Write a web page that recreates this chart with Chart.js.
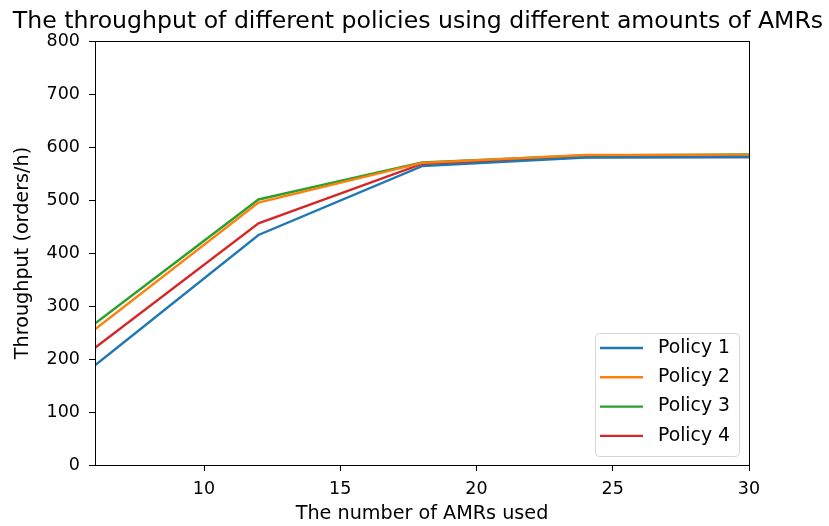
<!DOCTYPE html>
<html>
<head>
<meta charset="utf-8">
<script src="https://cdn.jsdelivr.net/npm/chart.js@4.4.1/dist/chart.umd.min.js"></script>
<style>
  html, body { margin: 0; padding: 0; background: #fff; }
  #wrap { width: 829px; height: 526px; }
</style>
</head>
<body>
<div id="wrap"><canvas id="chart" width="829" height="526"></canvas></div>
<script>
// values
var amrs = [6, 12, 18, 24, 30];
var policy1 = [188, 434, 564, 580, 581];
var policy2 = [256, 495, 570, 585, 585];
var policy3 = [267, 501, 571, 584, 586];
var policy4 = [221, 456, 568, 581, 581];
var xTicks = [10, 15, 20, 25, 30];
var yTicks = [0, 100, 200, 300, 400, 500, 600, 700, 800];
var titleText = "The throughput of different policies using different amounts of AMRs";

var colors = ["#1f77b4", "#ff7f0e", "#2ca02c", "#d62728"];
var font = "'DejaVu Sans', sans-serif";

function pts(ys) {
  return amrs.map(function (x, i) { return { x: x, y: ys[i] }; });
}

function series(label, ys, c) {
  return {
    label: label,
    data: pts(ys),
    borderColor: c,
    backgroundColor: c,
    borderWidth: 2.4,
    pointRadius: 0,
    tension: 0,
    fill: false
  };
}

// frame around the plot area
var frame = {
  id: "frame",
  afterDatasetsDraw: function (chart) {
    var a = chart.chartArea, g = chart.ctx;
    g.save();
    g.strokeStyle = "#000";
    g.lineWidth = 1;
    g.strokeRect(Math.round(a.left) + 0.5, Math.round(a.top) + 0.5,
      Math.round(a.right - a.left), Math.round(a.bottom - a.top));
    g.restore();
  }
};

// title drawn by hand so it may run wider than the plot box
var wideTitle = {
  id: "wideTitle",
  afterDraw: function (chart) {
    var a = chart.chartArea, g = chart.ctx;
    g.save();
    g.font = "23.6px " + font;
    g.fillStyle = "#000";
    g.textAlign = "center";
    g.textBaseline = "alphabetic";
    g.fillText(titleText, (a.left + a.right) / 2 - 4, a.top - 13);
    g.restore();
  }
};

// matplotlib-like legend in the lower right corner
var boxLegend = {
  id: "boxLegend",
  afterDraw: function (chart) {
    var a = chart.chartArea, g = chart.ctx;
    var sets = chart.data.datasets;
    var rowH = 29.3, w = 144, h = 123;
    var x0 = a.right - w - 10, y0 = a.bottom - h - 9;
    g.save();
    g.fillStyle = "rgba(255,255,255,0.8)";
    g.strokeStyle = "#d6d6d6";
    g.lineWidth = 1;
    g.beginPath();
    g.roundRect(x0 + 0.5, y0 + 0.5, w, h, 4);
    g.fill();
    g.stroke();
    g.font = "18.8px " + font;
    g.textBaseline = "middle";
    sets.forEach(function (d, i) {
      var cy = y0 + 15 + i * rowH;
      g.strokeStyle = d.borderColor;
      g.lineWidth = 2.4;
      g.beginPath();
      g.moveTo(x0 + 5, cy);
      g.lineTo(x0 + 48, cy);
      g.stroke();
      g.fillStyle = "#000";
      g.fillText(d.label, x0 + 63, cy);
    });
    g.restore();
  }
};

new Chart(document.getElementById("chart"), {
  type: "line",
  data: {
    datasets: [
      series("Policy 1", policy1, colors[0]),
      series("Policy 2", policy2, colors[1]),
      series("Policy 3", policy3, colors[2]),
      series("Policy 4", policy4, colors[3])
    ]
  },
  options: {
    responsive: false,
    animation: false,
    layout: { padding: { left: 0, right: 80, top: 41, bottom: 0 } },
    plugins: {
      legend: { display: false },
      tooltip: { enabled: false },
      title: { display: false }
    },
    scales: {
      x: {
        type: "linear",
        min: 6,
        max: 30,
        afterBuildTicks: function (s) { s.ticks = xTicks.map(function (v) { return { value: v }; }); },
        afterFit: function (s) { s.height = 61; },
        grid: { display: true, drawOnChartArea: false, tickLength: 6, color: "#000" },
        border: { display: false },
        ticks: { color: "#000", font: { family: font, size: 17.5 }, padding: 8, maxRotation: 0 },
        title: {
          display: true,
          text: "The number of AMRs used",
          color: "#000",
          font: { family: font, size: 19.2 },
          padding: { top: 0, bottom: 0 }
        }
      },
      y: {
        min: 0,
        max: 800,
        afterBuildTicks: function (s) { s.ticks = yTicks.map(function (v) { return { value: v }; }); },
        afterFit: function (s) { s.width = 95; },
        grid: { display: true, drawOnChartArea: false, tickLength: 6, color: "#000" },
        border: { display: false },
        ticks: { color: "#000", font: { family: font, size: 17.5 }, padding: 9 },
        title: {
          display: true,
          text: "Throughput (orders/h)",
          color: "#000",
          font: { family: font, size: 19.2 },
          padding: { top: 11, bottom: 4 }
        }
      }
    }
  },
  plugins: [frame, wideTitle, boxLegend]
});
</script>
</body>
</html>
